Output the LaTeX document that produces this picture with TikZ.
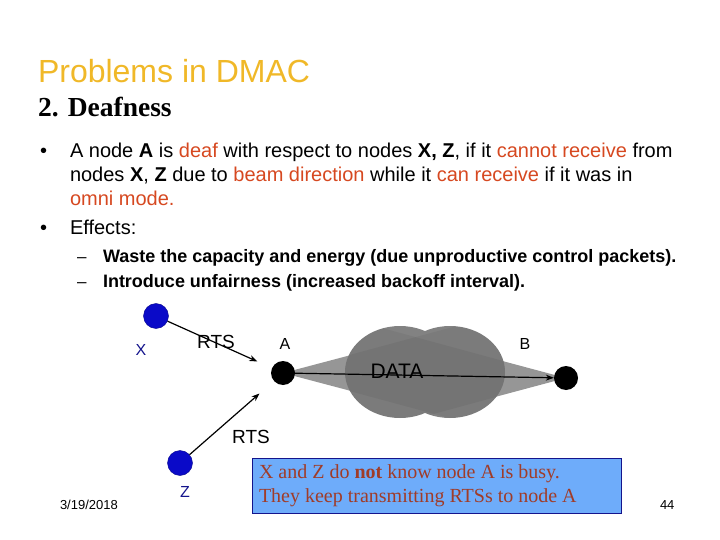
\documentclass[tikz,border=0pt]{standalone}
\usepackage{fontspec}
\setmainfont{Liberation Serif}
\setsansfont{Liberation Sans}
\usetikzlibrary{arrows.meta}
\definecolor{titlegold}{RGB}{240,184,40}
\definecolor{hl}{RGB}{214,72,32}
\definecolor{nodeblue}{RGB}{10,10,200}
\definecolor{labblue}{RGB}{20,20,140}
\definecolor{boxblue}{RGB}{110,172,250}
\definecolor{boxtext}{RGB}{160,60,40}
\definecolor{conegray}{RGB}{150,150,150}
\definecolor{cloudgray}{RGB}{130,130,130}
\tikzset{
  bluenode/.style={circle,fill=nodeblue,draw=nodeblue!70!black,minimum size=25pt,inner sep=0pt},
  blacknode/.style={circle,fill=black,minimum size=24pt,inner sep=0pt},
  txt/.style={anchor=base west,inner sep=0pt,outer sep=0pt},
  lab/.style={inner sep=0pt,font=\sffamily\fontsize{16}{16}\selectfont},
  msg/.style={-{Stealth[length=8pt,width=6pt]},line width=1.2pt}
}
\begin{document}
\begin{tikzpicture}[x=1pt,y=-1pt]
\useasboundingbox (0,0) rectangle (720,540);
% title
\node[txt,text=titlegold,font=\sffamily\fontsize{32}{32}\selectfont] (title) at (38,83) {Problems in DMAC};
\node[txt,font=\rmfamily\bfseries\fontsize{27.5}{27.5}\selectfont] (sub) at (38,117) {2. Deafness};
% bullets
\begin{scope}[every node/.append style={font=\sffamily\fontsize{20}{20}\selectfont}]
\node[txt] (b1) at (40,158) {•};
\node[txt] (l1) at (70,158) {A node \textbf{A} is \textcolor{hl}{deaf} with respect to nodes \textbf{X, Z}, if it \textcolor{hl}{cannot receive} from};
\node[txt] (l2) at (70,182) {nodes \textbf{X}, \textbf{Z} due to \textcolor{hl}{beam direction} while it \textcolor{hl}{can receive} if it was in};
\node[txt,text=hl] (l3) at (70,206) {omni mode.};
\node[txt] (b2) at (40,235) {•};
\node[txt] (l4) at (70,235) {Effects:};
\end{scope}
\begin{scope}[every node/.append style={font=\sffamily\bfseries\fontsize{18}{18}\selectfont}]
\node[txt,font=\sffamily\fontsize{17}{17}\selectfont] (d1) at (77,262) {–};
\node[txt] (s1) at (103,262) {Waste the capacity and energy (due unproductive control packets).};
\node[txt,font=\sffamily\fontsize{17}{17}\selectfont] (d2) at (77,287) {–};
\node[txt] (s2) at (103,287) {Introduce unfairness (increased backoff interval).};
\end{scope}
% beam
\fill[conegray] (283,373) -- (370,350) -- (370,396) -- cycle;
\fill[conegray] (566,378) -- (480,355) -- (480,401) -- cycle;
\fill[cloudgray] (400,372) ellipse [x radius=55, y radius=46] (450,372) ellipse [x radius=55, y radius=46];
\begin{scope}
\clip (400,372) ellipse [x radius=55, y radius=46] (450,372) ellipse [x radius=55, y radius=46];
\fill[black,fill opacity=0.05] (283,373) -- (505,313) -- (505,433) -- cycle;
\fill[black,fill opacity=0.05] (566,378) -- (345,318) -- (345,438) -- cycle;
\end{scope}
% nodes
\node[bluenode] (X) at (156,316) {};
\node[blacknode] (A) at (283,373) {};
\node[blacknode] (B) at (566,378) {};
\node[bluenode] (Z) at (180,463) {};
\node[lab,text=labblue] (Xl) at (141,350) {X};
\node[lab,text=labblue] (Zl) at (185,492) {Z};
\node[lab] (Al) at (285,344) {A};
\node[lab] (Bl) at (525,344) {B};
% messages
\draw[msg,shorten >=16pt] (X) -- (A);
\draw[msg,shorten >=19pt] (Z) -- (A);
\draw[msg] (A) -- (B);
\node[lab,font=\sffamily\fontsize{19}{19}\selectfont] (rts1) at (216,342) {RTS};
\node[lab,font=\sffamily\fontsize{19}{19}\selectfont] (rts2) at (251,437) {RTS};
\node[lab,font=\sffamily\fontsize{21}{21}\selectfont] (data) at (397,371) {DATA};
% box
\node[draw=labblue,fill=boxblue,line width=1pt,minimum width=369pt,minimum height=55pt,anchor=north west,inner sep=0pt] (box) at (252,458) {};
\node[txt,text=boxtext,font=\rmfamily\fontsize{20}{20}\selectfont] (bt1) at (259,478) {X and Z do \textbf{not} know node A is busy.};
\node[txt,text=boxtext,font=\rmfamily\fontsize{20}{20}\selectfont] (bt2) at (259,502) {They keep transmitting RTSs to node A};
% footer
\node[txt,font=\sffamily\fontsize{13}{13}\selectfont] (date) at (60,509) {3/19/2018};
\node[txt,font=\sffamily\fontsize{13}{13}\selectfont] (pg) at (660,509) {44};
\end{tikzpicture}
\end{document}
